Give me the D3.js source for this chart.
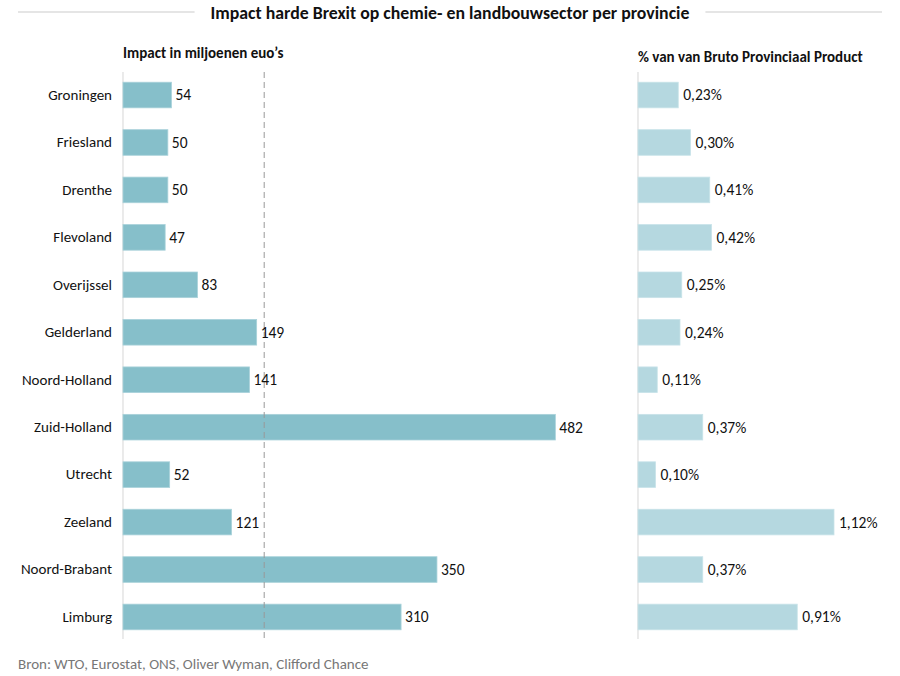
<!DOCTYPE html>
<html><head><meta charset="utf-8">
<script src="https://cdn.jsdelivr.net/npm/d3@7"></script>
<style>
body{margin:0;background:#fff;}
text{font-family:Carlito, Lato, "Liberation Sans", sans-serif;}
</style></head>
<body><svg id="c" width="900" height="676"></svg>
<script>
const provinces = ["Groningen","Friesland","Drenthe","Flevoland","Overijssel","Gelderland","Noord-Holland","Zuid-Holland","Utrecht","Zeeland","Noord-Brabant","Limburg"];
const impact = [54,50,50,47,83,149,141,482,52,121,350,310];
const pctBPP = [0.23,0.30,0.41,0.42,0.25,0.24,0.11,0.37,0.10,1.12,0.37,0.91];
const title = "Impact harde Brexit op chemie- en landbouwsector per provincie";
const leftTitle = "Impact in miljoenen euo\u2019s";
const rightTitle = "% van van Bruto Provinciaal Product";
const source = "Bron: WTO, Eurostat, ONS, Oliver Wyman, Clifford Chance";

const svg = d3.select("#c");
const y = d3.scaleBand().domain(provinces).range([71.3,640.7]).paddingInner(0.46).paddingOuter(0.23);
const xL = d3.scaleLinear().domain([0,500]).range([123,571.5]);
const xR = d3.scaleLinear().domain([0,1.2]).range([638,848]);

// title
const t = svg.append("text").attr("x",450).attr("y",18.5).attr("text-anchor","middle")
  .attr("font-weight","bold").attr("font-size",17.8).attr("fill","#111").text(title);
const tw = t.node().getComputedTextLength();
svg.append("line").attr("x1",18).attr("x2",450-tw/2-16).attr("y1",12).attr("y2",12).attr("stroke","#ccc").attr("stroke-width",1.2);
svg.append("line").attr("x1",450+tw/2+16).attr("x2",882).attr("y1",12).attr("y2",12).attr("stroke","#ccc").attr("stroke-width",1.2);

svg.append("text").attr("x",123).attr("y",58).attr("font-weight","bold").attr("font-size",15).attr("fill","#111").text(leftTitle);
svg.append("text").attr("x",638).attr("y",62).attr("font-weight","bold").attr("font-size",15).attr("fill","#111").text(rightTitle);

// axes lines
svg.append("line").attr("x1",xL(0)).attr("x2",xL(0)).attr("y1",72).attr("y2",639).attr("stroke","#ddd").attr("stroke-width",1.2);
svg.append("line").attr("x1",xR(0)).attr("x2",xR(0)).attr("y1",72).attr("y2",639).attr("stroke","#ddd").attr("stroke-width",1.2);

// category labels
const yAxis = d3.axisLeft(y).tickSize(0).tickPadding(0);
const ga = svg.append("g").attr("transform","translate(112,0)").call(yAxis);
ga.select(".domain").remove();
ga.selectAll("text").attr("font-size",15).attr("fill","#111").style("font-family","Carlito, Lato, 'Liberation Sans', sans-serif");

// left bars
svg.append("g").selectAll("rect").data(provinces).join("rect")
  .attr("x",xL(0)).attr("y",d=>y(d)).attr("height",y.bandwidth())
  .attr("width",(d,i)=>xL(impact[i])-xL(0))
  .attr("fill","#86bfca").attr("stroke","#a9d2da").attr("stroke-width",0.8);

// mean dashed line
const mean = d3.mean(impact);
svg.append("line").attr("x1",xL(mean)).attr("x2",xL(mean)).attr("y1",72).attr("y2",639)
  .attr("stroke","#999").attr("stroke-width",1).attr("stroke-dasharray","6,4");

svg.append("g").selectAll("text").data(provinces).join("text")
  .attr("x",(d,i)=>xL(impact[i])+4).attr("y",d=>y(d)+y.bandwidth()/2).attr("dy","0.35em")
  .attr("font-size",15.5).attr("fill","#111").text((d,i)=>impact[i]);

// right bars
svg.append("g").selectAll("rect").data(provinces).join("rect")
  .attr("x",xR(0)).attr("y",d=>y(d)).attr("height",y.bandwidth())
  .attr("width",(d,i)=>xR(pctBPP[i])-xR(0))
  .attr("fill","#b5d8e0").attr("stroke","#c8e3e9").attr("stroke-width",0.8);
svg.append("g").selectAll("text").data(provinces).join("text")
  .attr("x",(d,i)=>xR(pctBPP[i])+5).attr("y",d=>y(d)+y.bandwidth()/2).attr("dy","0.35em")
  .attr("font-size",15.5).attr("fill","#111").text((d,i)=>pctBPP[i].toFixed(2).replace(".",",")+"%");

svg.append("text").attr("x",18).attr("y",669).attr("font-size",15).attr("fill","#777").text(source);
</script></body></html>
